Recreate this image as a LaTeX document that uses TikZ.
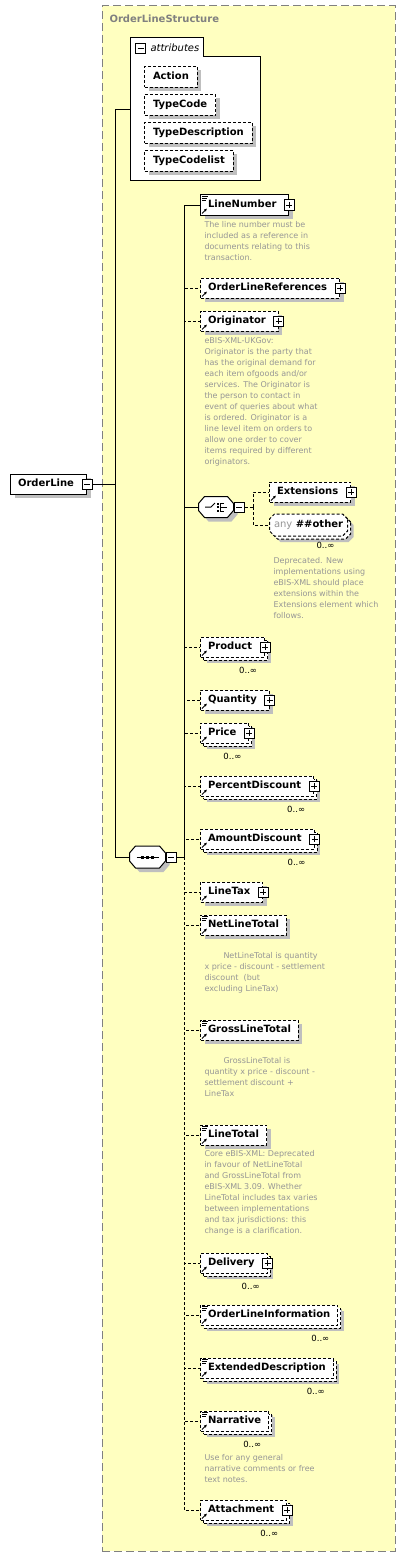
\documentclass[tikz,border=0pt]{standalone}
\usepackage{fontspec}
\setmainfont{DejaVu Sans}
\usetikzlibrary{arrows.meta,shadows,shapes.misc}
\definecolor{cpxfill}{RGB}{255,255,192}
\definecolor{cpxline}{RGB}{128,128,128}
\definecolor{doctext}{RGB}{150,150,150}

\begin{document}
\begin{tikzpicture}[x=1pt, y=-1pt, line width=1pt,
    opt/.style={dash pattern=on 3pt off 2pt},
    shade4/.style={drop shadow={shadow xshift=4pt, shadow yshift=-4pt, fill=black!25, opacity=1}},
    multi/.style={drop shadow={shadow xshift=6pt, shadow yshift=-6pt, fill=black!25, opacity=1},
      copy shadow={shadow xshift=3pt, shadow yshift=-3pt, draw=black, fill=white, dash pattern=on 3pt off 2pt}},
    elem/.style={draw, fill=white, anchor=west, font=\bfseries\fontsize{10}{12}\selectfont,
      minimum height=20pt, inner xsep=7.5pt, inner ysep=0pt, text height=7.5pt, text depth=2.5pt, shade4},
    xpad/.style={execute at end node=\hspace{5pt}},
    attr/.style={elem, opt, minimum height=21pt, inner xsep=8.5pt},
    refi/.style={append after command={([shift={(2pt,2pt)}]\tikzlastnode.south west)
      edge[solid, line width=1pt, -{Latex[length=3pt,width=3pt]}] ++(5pt,5pt)}},
    doci/.style={append after command={
      ([shift={(2pt,-2pt)}]\tikzlastnode.north west) edge[solid, line width=.8pt] ++(6pt,0pt)
      ([shift={(2pt,-4pt)}]\tikzlastnode.north west) edge[solid, line width=.8pt] ++(5pt,0pt)
      ([shift={(2pt,-6pt)}]\tikzlastnode.north west) edge[solid, line width=.8pt] ++(4pt,0pt)}},
    pbox/.style={draw, fill=white, solid, minimum size=10pt, inner sep=0pt,
      path picture={\draw ([xshift=2pt]path picture bounding box.west) -- ([xshift=-2pt]path picture bounding box.east);
        \draw ([yshift=-2pt]path picture bounding box.north) -- ([yshift=2pt]path picture bounding box.south);}},
    mbox/.style={draw, fill=white, solid, minimum size=10pt, inner sep=0pt,
      path picture={\draw ([xshift=2pt]path picture bounding box.west) -- ([xshift=-2pt]path picture bounding box.east);}},
    comp/.style={minimum width=35pt, minimum height=21pt, inner sep=0pt},
    oct/.style={insert path={([xshift=6pt]#1.north west) -- ([xshift=-6pt]#1.north east)
      -- ([yshift=-7pt]#1.north east) -- ([yshift=7pt]#1.south east) -- ([xshift=-6pt]#1.south east)
      -- ([xshift=6pt]#1.south west) -- ([yshift=7pt]#1.south west) -- ([yshift=-7pt]#1.north west) -- cycle}},
    wild/.style={draw, fill=white, anchor=west, chamfered rectangle, chamfered rectangle xsep=2.5pt, chamfered rectangle ysep=2.5pt,
      font=\bfseries\fontsize{10}{12}\selectfont, inner xsep=2pt, inner ysep=3.5pt, text height=7.5pt, text depth=2.5pt},
    doc/.style={anchor=north west, align=left, inner sep=0pt, text=doctext, font=\fontsize{8}{11}\selectfont},
    mult/.style={inner sep=0pt, font=\fontsize{8.5}{10}\selectfont}]
  \useasboundingbox (0,0) rectangle (406,1557);

  % complex type
  \node[draw=cpxline, fill=cpxfill, dash pattern=on 8pt off 4pt, minimum width=293pt, minimum height=1545pt] (olstruct) at (248.5,778.5) {};
  \node[anchor=west, inner sep=0pt, text=cpxline, font=\bfseries\fontsize{10}{12}\selectfont] (olstructt) at (109,19) {OrderLineStructure};

  % attributes
  \draw[fill=white] (130,181) |- (203,38) |- (260,57) |- cycle;
  \node[mbox] (attrm) at (140.5,49) {};
  \node[anchor=west, inner sep=0pt, font=\itshape\fontsize{10}{12}\selectfont] (attrt) at (150,48) {attributes};
  \coordinate (attrs) at (130,110);
  \node[attr] (action) at (144,77) {Action};
  \node[attr] (typecode) at (144,105) {TypeCode};
  \node[attr] (typedesc) at (144,133) {TypeDescription};
  \node[attr] (typecodelist) at (144,161) {TypeCodelist};

  % root
  \node[elem, xpad] (orderline) at (10,484) {OrderLine};
  \node[mbox] (orderlinem) at (orderline.east) {};

  % sequence
  \node[comp] (seq) at (147.5,857) {};
  \fill[black!25, transform canvas={shift={(4pt,-4pt)}}, oct=seq];
  \draw[fill=white, oct=seq];
  \draw ([xshift=-11pt]seq.center) -- ([xshift=11pt]seq.center);
  \foreach \dx in {-5,0,5}
    \fill ([xshift=\dx pt]seq.center) +(-1.5pt,-1.5pt) rectangle +(1.5pt,1.5pt);
  \node[mbox, anchor=west] (seqm) at (seq.east) {};

  % choice
  \node[comp, minimum width=34pt, minimum height=20pt] (choice) at (216,507) {};
  \fill[black!25, transform canvas={shift={(4pt,-4pt)}}, oct=choice];
  \draw[fill=white, oct=choice];
  \draw ([xshift=-11pt]choice.center) -- ([xshift=-5pt]choice.center) -- ([shift={(-1pt,4pt)}]choice.center);
  \foreach \dy in {-3.5,0,3.5}
    \fill ([shift={(1.5pt,\dy pt)}]choice.center) +(-1pt,-1pt) rectangle +(1pt,1pt);
  \draw ([shift={(8pt,4pt)}]choice.center) -- ([shift={(4.5pt,4pt)}]choice.center)
    -- ([shift={(4.5pt,-4pt)}]choice.center) -- ([shift={(8pt,-4pt)}]choice.center);
  \draw ([xshift=4.5pt]choice.center) -- ([xshift=11pt]choice.center);
  \node[mbox, anchor=west] (choicem) at (choice.east) {};

  \node[elem, opt, xpad, refi] (extensions) at (269,492) {Extensions};
  \node[pbox] (extensionsp) at (extensions.east) {};
  \node[wild, opt, multi] (anyother) at (269,525) {{\mdseries\color{doctext}any} \#\#other};
  \node[mult] (anyotherm) at ([xshift=-20pt,yshift=-12pt]anyother.south east) {0..∞};
  \node[doc] (extdoc) at (273,557) {Deprecated. New\\implementations using\\eBIS-XML should place\\extensions within the\\Extensions element which\\follows.};

  % children
  \node[elem, xpad, doci, refi] (linenumber) at (200,205) {LineNumber};
  \node[pbox] (linenumberp) at (linenumber.east) {};
  \node[doc] (linenumberdoc) at (204,221) {The line number must be\\included as a reference in\\documents relating to this\\transaction.};

  \node[elem, opt, xpad, refi] (olrefs) at (200,288) {OrderLineReferences};
  \node[pbox] (olrefsp) at (olrefs.east) {};

  \node[elem, opt, xpad, refi] (originator) at (200,321) {Originator};
  \node[pbox] (originatorp) at (originator.east) {};
  \node[doc] (originatordoc) at (204,337) {eBIS-XML-UKGov:\\Originator is the party that\\has the original demand for\\each item ofgoods and/or\\services. The Originator is\\the person to contact in\\event of queries about what\\is ordered. Originator is a\\line level item on orders to\\allow one order to cover\\items required by different\\originators.};

  \node[elem, opt, multi, xpad, refi] (product) at (200,647) {Product};
  \node[pbox] (productp) at (product.east) {};
  \node[mult] (productm) at ([xshift=-17pt,yshift=-13pt]product.south east) {0..∞};

  \node[elem, opt, xpad, refi] (quantity) at (200,700) {Quantity};
  \node[pbox] (quantityp) at (quantity.east) {};

  \node[elem, opt, multi, xpad, refi] (price) at (200,733) {Price};
  \node[pbox] (pricep) at (price.east) {};
  \node[mult] (pricem) at ([xshift=-17pt,yshift=-13pt]price.south east) {0..∞};

  \node[elem, opt, multi, xpad, refi] (pctdisc) at (200,786) {PercentDiscount};
  \node[pbox] (pctdiscp) at (pctdisc.east) {};
  \node[mult] (pctdiscm) at ([xshift=-18pt,yshift=-13pt]pctdisc.south east) {0..∞};

  \node[elem, opt, multi, xpad, refi] (amtdisc) at (200,839) {AmountDiscount};
  \node[pbox] (amtdiscp) at (amtdisc.east) {};
  \node[mult] (amtdiscm) at ([xshift=-18pt,yshift=-13pt]amtdisc.south east) {0..∞};

  \node[elem, opt, xpad, refi] (linetax) at (200,892) {LineTax};
  \node[pbox] (linetaxp) at (linetax.east) {};

  \node[elem, opt, doci, refi] (netlinetotal) at (200,925) {NetLineTotal};
  \node[doc] (netlinetotaldoc) at (204,952) {\hspace*{19pt}NetLineTotal is quantity\\x price - discount - settlement\\discount~ (but\\excluding LineTax)};

  \node[elem, opt, doci, refi] (grosslinetotal) at (200,1030) {GrossLineTotal};
  \node[doc] (grosslinetotaldoc) at (204,1057) {\hspace*{19pt}GrossLineTotal is\\quantity x price - discount -\\settlement discount +\\LineTax};

  \node[elem, opt, doci, refi] (linetotal) at (200,1135) {LineTotal};
  \node[doc] (linetotaldoc) at (204,1150) {Core eBIS-XML: Deprecated\\in favour of NetLineTotal\\and GrossLineTotal from\\eBIS-XML 3.09. Whether\\LineTotal includes tax varies\\between implementations\\and tax jurisdictions: this\\change is a clarification.};

  \node[elem, opt, multi, xpad, refi] (delivery) at (200,1263) {Delivery};
  \node[pbox] (deliveryp) at (delivery.east) {};
  \node[mult] (deliverym) at ([xshift=-17pt,yshift=-13pt]delivery.south east) {0..∞};

  \node[elem, opt, multi, doci, refi] (olinfo) at (200,1315) {OrderLineInformation};
  \node[mult] (olinfom) at ([xshift=-18pt,yshift=-13pt]olinfo.south east) {0..∞};

  \node[elem, opt, multi, doci, refi] (extdesc) at (200,1368) {ExtendedDescription};
  \node[mult] (extdescm) at ([xshift=-18pt,yshift=-13pt]extdesc.south east) {0..∞};

  \node[elem, opt, multi, doci, refi] (narrative) at (200,1421) {Narrative};
  \node[mult] (narrativem) at ([xshift=-17pt,yshift=-13pt]narrative.south east) {0..∞};
  \node[doc] (narrativedoc) at (204,1454) {Use for any general\\narrative comments or free\\text notes.};

  \node[elem, opt, multi, xpad, refi] (attachment) at (200,1510) {Attachment};
  \node[pbox] (attachmentp) at (attachment.east) {};
  \node[mult] (attachmentm) at ([xshift=-18pt,yshift=-13pt]attachment.south east) {0..∞};

  % connectors
  \coordinate (trunk) at (115,484);
  \coordinate (bus) at (184,857);
  \coordinate (chbus) at (253,507);
  \draw (orderlinem.east) -- (trunk);
  \draw (trunk) |- (attrs);
  \draw (trunk) |- (seq.west);
  \draw (seqm.east) -- (bus);
  \draw (bus) |- (linenumber.west);
  \draw (bus) |- (choice.west);
  \draw[opt] (choicem.east) -- (chbus);
  \draw[opt] (chbus) |- (extensions.west);
  \draw[opt] (chbus) |- (anyother.west);
  \foreach \n in {olrefs,originator,product,quantity,price,pctdisc,amtdisc,linetax,netlinetotal,
      grosslinetotal,linetotal,delivery,olinfo,extdesc,narrative,attachment}
    \draw[opt] (bus) |- (\n.west);
\end{tikzpicture}
\end{document}
